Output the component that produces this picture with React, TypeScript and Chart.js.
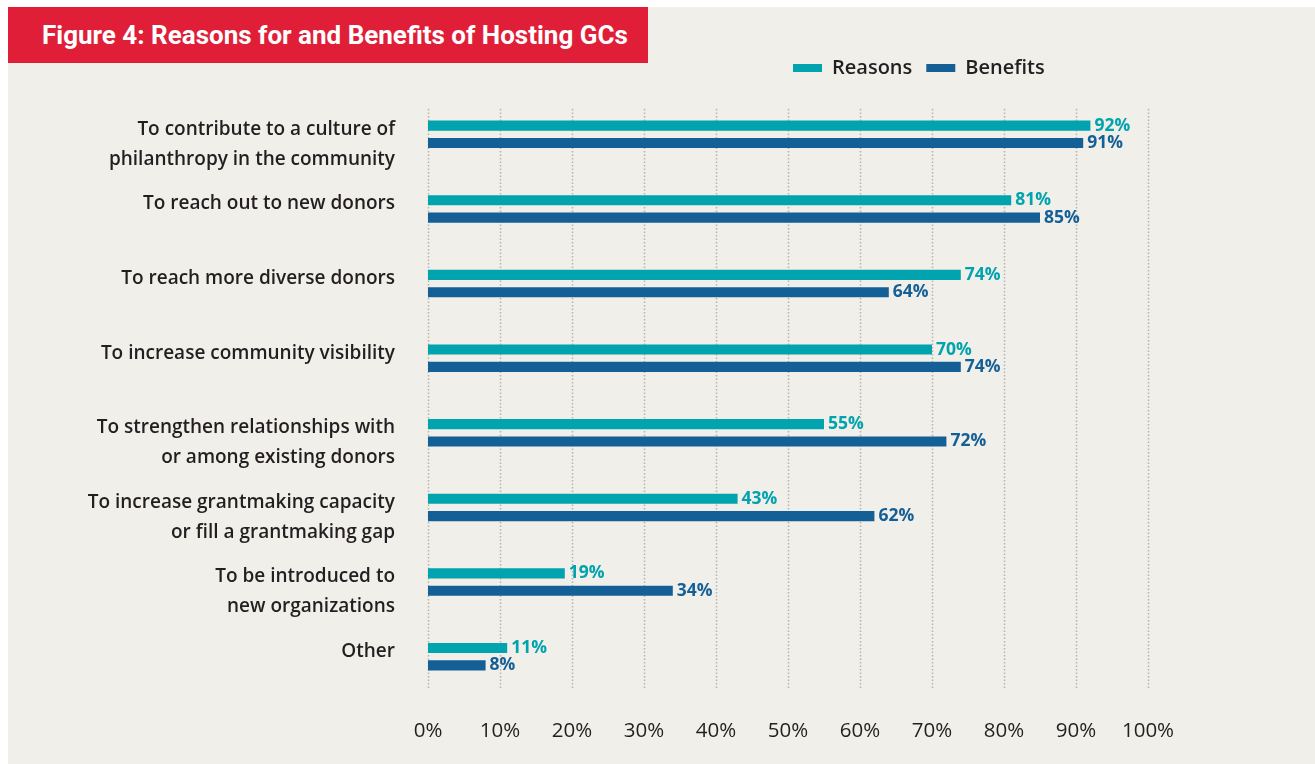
import React, { useEffect, useRef } from "react";
import { Chart, registerables } from "chart.js";

Chart.register(...registerables);

const TITLE = "Figure 4: Reasons for and Benefits of Hosting GCs";
const CATEGORIES: string[][] = [
  ["To contribute to a culture of", "philanthropy in the community"],
  ["To reach out to new donors"],
  ["To reach more diverse donors"],
  ["To increase community visibility"],
  ["To strengthen relationships with", "or among existing donors"],
  ["To increase grantmaking capacity", "or fill a grantmaking gap"],
  ["To be introduced to", "new organizations"],
  ["Other"],
];
const SERIES_NAMES = ["Reasons", "Benefits"];
const REASONS = [92, 81, 74, 70, 55, 43, 19, 11];
const BENEFITS = [91, 85, 64, 74, 72, 62, 34, 8];
const X_MIN = 0;
const X_MAX = 100;
const X_STEP = 10;

const TEAL = "#00a3ae";
const BLUE = "#155f97";
const TEXT = "#231f20";
const BG = "#f0efea";
const RED = "#e01e37";
const FONT = '"Open Sans", "Noto Sans", sans-serif';

const dottedGrid = {
  id: "dottedGrid",
  beforeDatasetsDraw(chart: any) {
    const xs = chart.scales.x;
    const { top, bottom } = chart.chartArea;
    const ctx = chart.ctx;
    ctx.save();
    ctx.strokeStyle = "#b3b3b1";
    ctx.lineWidth = 1.5;
    ctx.setLineDash([1.5, 2]);
    xs.ticks.forEach((t: any) => {
      const x = Math.round(xs.getPixelForValue(t.value)) + 0.5;
      ctx.beginPath();
      ctx.moveTo(x, top + 12);
      ctx.lineTo(x, bottom - 6);
      ctx.stroke();
    });
    ctx.restore();
  },
};

const valueLabels = {
  id: "valueLabels",
  afterDatasetsDraw(chart: any) {
    const ctx = chart.ctx;
    ctx.save();
    ctx.font = `bold 17.5px ${FONT}`;
    ctx.textAlign = "left";
    ctx.textBaseline = "middle";
    chart.data.datasets.forEach((ds: any, di: number) => {
      const meta = chart.getDatasetMeta(di);
      ctx.fillStyle = ds.backgroundColor;
      meta.data.forEach((bar: any, i: number) => {
        ctx.fillText(`${ds.data[i]}%`, bar.x + 4, bar.y);
      });
    });
    ctx.restore();
  },
};

const legendPlace = {
  id: "legendPlace",
  afterLayout(chart: any) {
    const lg = chart.legend;
    if (!lg) return;
    const h = lg.bottom - lg.top;
    lg.left = 771;
    lg.right = chart.width;
    lg.top = 37;
    lg.bottom = 37 + h;
  },
};

export default function App() {
  const ref = useRef<HTMLCanvasElement>(null);

  useEffect(() => {
    if (!ref.current) return;
    const labels = CATEGORIES.map((l) => (l.length === 1 ? [...l, ""] : l));
    const chart = new Chart(ref.current, {
      type: "bar",
      data: {
        labels,
        datasets: [
          {
            label: SERIES_NAMES[0],
            data: REASONS,
            backgroundColor: TEAL,
            categoryPercentage: 0.464,
            barPercentage: 0.586,
          },
          {
            label: SERIES_NAMES[1],
            data: BENEFITS,
            backgroundColor: BLUE,
            categoryPercentage: 0.464,
            barPercentage: 0.586,
          },
        ],
      },
      options: {
        indexAxis: "y",
        responsive: false,
        animation: false,
        events: [],
        layout: { padding: { top: 46, right: 167, bottom: 20, left: 0 } },
        plugins: {
          tooltip: { enabled: false },
          title: { display: false },
          legend: {
            display: true,
            position: "top",
            align: "start",
            labels: {
              boxWidth: 29,
              boxHeight: 8,
              padding: 14,
              color: TEXT,
              font: { family: FONT, size: 20, weight: "600" },
            },
          },
        },
        scales: {
          x: {
            type: "linear",
            min: X_MIN,
            max: X_MAX,
            grid: { display: false, drawTicks: false },
            border: { display: false },
            afterFit: (scale: any) => {
              scale.height = 50;
            },
            ticks: {
              stepSize: X_STEP,
              padding: 25,
              color: TEXT,
              font: { family: FONT, size: 20.5, weight: "400" },
              callback: (v: any) => `${v}%`,
            },
          },
          y: {
            type: "category",
            grid: { display: false, drawTicks: false },
            border: { display: false },
            afterFit: (scale: any) => {
              scale.width = 420;
              scale.paddingTop = 0;
              scale.paddingBottom = 0;
            },
            ticks: {
              autoSkip: false,
              padding: 33,
              labelOffset: 10,
              color: TEXT,
              font: { family: FONT, size: 19, weight: "600", lineHeight: 30 / 19 },
            },
          },
        },
      },
      plugins: [dottedGrid, valueLabels, legendPlace],
    });
    let alive = true;
    if ((document as any).fonts) {
      Promise.all([
        (document as any).fonts.load(`600 18px ${FONT}`),
        (document as any).fonts.load(`400 20px ${FONT}`),
        (document as any).fonts.load(`bold 18px ${FONT}`),
      ]).then(() => {
        if (alive) chart.update();
      });
    }
    return () => {
      alive = false;
      chart.destroy();
    };
  }, []);

  return (
    <div
      style={{
        position: "fixed",
        left: 8,
        top: 7,
        width: 1307,
        height: 757,
        background: BG,
        overflow: "hidden",
      }}
    >
      <canvas
        ref={ref}
        width={1307}
        height={757}
        style={{ display: "block", position: "absolute", left: 0, top: 0 }}
      />
      <div
        style={{
          position: "absolute",
          left: 0,
          top: 0,
          width: 640,
          height: 56,
          background: RED,
          color: "#ffffff",
          display: "flex",
          alignItems: "center",
          paddingLeft: 34,
          boxSizing: "border-box",
          fontFamily: '"Liberation Sans Narrow", "Roboto", "Liberation Sans", sans-serif',
          fontWeight: 700,
          fontSize: 26,
          whiteSpace: "nowrap",
        }}
      >
        {TITLE}
      </div>
    </div>
  );
}
